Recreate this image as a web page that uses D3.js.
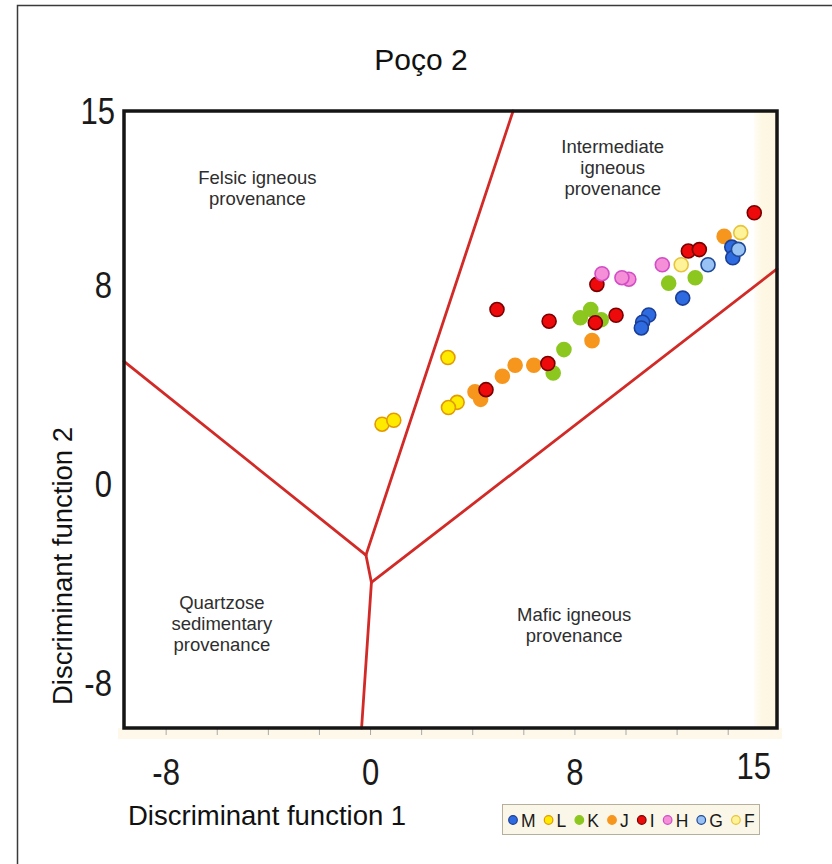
<!DOCTYPE html>
<html>
<head>
<meta charset="utf-8">
<script src="https://cdn.jsdelivr.net/npm/d3@7/dist/d3.min.js"></script>
<style>
  html, body { margin: 0; padding: 0; background: #fff; }
  svg { display: block; font-family: "Liberation Sans", Arial, sans-serif; }
</style>
</head>
<body>
<svg id="chart" width="832" height="864"></svg>
<script>
// ---- Data -------------------------------------------------------------
const title = "Poço 2";
const xTitle = "Discriminant function 1";
const yTitle = "Discriminant function 2";
const xTickLabels = [-8, 0, 8, 15];
const yTickLabels = [15, 8, 0, -8];
const xMinorTicks = [-8, -6, -4, -2, 0, 2, 4, 6, 8, 10, 12, 14];

// Sample groups (legend order)
const groups = ["M", "L", "K", "J", "I", "H", "G", "F"];
const groupFill   = ["#2f6be0", "#ffea00", "#8cc71f", "#f7961c", "#ee0a0a", "#f48fd8", "#98c2f4", "#fff39a"];
const groupStroke = ["#1b3f96", "#e29a00", "#8cc71f", "#f7961c", "#7a0000", "#d24dc6", "#1f4a98", "#e8c43a"];

// Discriminant-function scores for each group: [DF1, DF2]
const M = [[14.14, 9.53], [14.18, 9.10], [12.22, 7.48], [10.89, 6.80], [10.65, 6.51], [10.60, 6.28]];
const L = [[3.03, 5.09], [0.45, 2.41], [0.91, 2.57], [3.39, 3.29], [3.05, 3.08]];
const K = [[11.67, 8.08], [12.71, 8.30], [8.62, 7.02], [8.21, 6.69], [9.03, 6.61], [7.57, 5.41], [7.15, 4.47]];
const J = [[13.84, 9.96], [8.67, 5.77], [6.39, 4.78], [5.66, 4.78], [5.16, 4.34], [4.09, 3.71], [4.31, 3.41]];
const I = [[15.02, 10.91], [12.44, 9.37], [12.87, 9.43], [8.86, 8.03], [4.95, 7.02], [6.99, 6.55],
           [8.80, 6.49], [9.61, 6.79], [6.94, 4.85], [4.52, 3.80]];
const H = [[11.42, 8.82], [9.06, 8.46], [10.11, 8.24], [9.84, 8.30]];
const G = [[14.40, 9.44], [13.21, 8.82]];
const F = [[14.49, 10.11], [12.16, 8.82]];
const groupValues = { M, L, K, J, I, H, G, F };
const drawOrder = ["J", "K", "L", "M", "G", "F", "I", "H"];

// Provenance field boundaries (DF1, DF2)
const junctionUpper = [-0.18, -2.85];
const junctionLower = [0.035, -3.95];
const boundaries = [
  [[-9.65, 4.94], junctionUpper],          // felsic / quartzose
  [junctionUpper, [5.58, 15.0]],           // felsic / intermediate
  [junctionUpper, junctionLower],
  [junctionLower, [15.91, 8.65]],          // intermediate / mafic
  [junctionLower, [-0.35, -9.8]]           // quartzose / mafic
];

// Field names
const fieldLabels = [
  { lines: ["Felsic igneous", "provenance"], at: [-4.43, 12.05] },
  { lines: ["Intermediate", "igneous", "provenance"], at: [9.48, 13.3] },
  { lines: ["Quartzose", "sedimentary", "provenance"], at: [-5.82, -5.0] },
  { lines: ["Mafic igneous", "provenance"], at: [7.97, -5.5] }
];

// ---- Layout -------------------------------------------------------------
const plot = { left: 124, top: 111, right: 777, bottom: 728 };
const xDomain = [-9.65, 15.91];
const yDomain = [-9.8, 15];

const svg = d3.select("#chart");
const x = d3.scaleLinear().domain(xDomain).range([plot.left, plot.right]);
const y = d3.scaleLinear().domain(yDomain).range([plot.bottom, plot.top]);

// outer frame (left and top edges)
svg.append("path")
  .attr("d", "M17.5,870 L17.5,5.5 L840,5.5")
  .attr("fill", "none").attr("stroke", "#3a3a3a").attr("stroke-width", 1.5);

// cream margins around the plot
const defs = svg.append("defs");
const grad = defs.append("linearGradient").attr("id", "strip").attr("x1", 0).attr("x2", 1).attr("y1", 0).attr("y2", 0);
grad.append("stop").attr("offset", "0%").attr("stop-color", "#fffdf6");
grad.append("stop").attr("offset", "35%").attr("stop-color", "#fdf7e4");
grad.append("stop").attr("offset", "100%").attr("stop-color", "#fcf6e2");
svg.append("rect")
  .attr("x", 754).attr("y", plot.top).attr("width", plot.right - 754).attr("height", plot.bottom - plot.top)
  .attr("fill", "url(#strip)");
svg.append("rect")
  .attr("x", 118).attr("y", plot.bottom).attr("width", 664).attr("height", 11)
  .attr("fill", "#fdf8ea");

// minor ticks below the x axis
svg.append("g").selectAll("line").data(xMinorTicks).join("line")
  .attr("x1", d => x(d)).attr("x2", d => x(d))
  .attr("y1", plot.bottom).attr("y2", plot.bottom + 7)
  .attr("stroke", "#a8a8a8").attr("stroke-width", 1);

// field boundaries
const line = d3.line().x(d => x(d[0])).y(d => y(d[1]));
svg.append("g").selectAll("path").data(boundaries).join("path")
  .attr("d", line)
  .attr("fill", "none").attr("stroke", "#d22a27").attr("stroke-width", 2.8)
  .attr("stroke-linejoin", "round").attr("stroke-linecap", "round");

// field names
const fl = svg.append("g").attr("fill", "#2e2e2e").attr("font-size", 18.5).attr("text-anchor", "middle");
fieldLabels.forEach(f => {
  const t = fl.append("text").attr("x", x(f.at[0])).attr("y", y(f.at[1]));
  f.lines.forEach((ln, i) => {
    t.append("tspan").attr("x", x(f.at[0])).attr("dy", i === 0 ? 0 : 21).text(ln);
  });
});

// data points
const pts = svg.append("g");
drawOrder.forEach(g => {
  const gi = groups.indexOf(g);
  pts.append("g").selectAll("circle").data(groupValues[g]).join("circle")
    .attr("cx", d => x(d[0])).attr("cy", d => y(d[1])).attr("r", 7)
    .attr("fill", groupFill[gi]).attr("stroke", groupStroke[gi]).attr("stroke-width", 1.6);
});

// plot border
svg.append("rect")
  .attr("x", plot.left).attr("y", plot.top)
  .attr("width", plot.right - plot.left).attr("height", plot.bottom - plot.top)
  .attr("fill", "none").attr("stroke", "#151515").attr("stroke-width", 3.5);

// tick labels (narrow digits)
const squeeze = 0.84;
svg.append("g").attr("font-size", 37).attr("fill", "#1a1a1a").attr("text-anchor", "middle")
  .selectAll("text").data(xTickLabels).join("text")
  .attr("transform", d => `translate(${x(d)},${d === 15 ? 779 : 785}) scale(${squeeze},1)`)
  .text(d => d);
svg.append("g").attr("font-size", 37).attr("fill", "#1a1a1a").attr("text-anchor", "end")
  .selectAll("text").data(yTickLabels).join("text")
  .attr("transform", d => `translate(${d === 15 ? 115 : 112},${Math.max(y(d), 109) + 13}) scale(${squeeze},1)`)
  .text(d => d);

// titles
svg.append("text").attr("x", 421).attr("y", 70).attr("text-anchor", "middle")
  .attr("font-size", 30).attr("fill", "#111").text(title);
svg.append("text").attr("x", 128).attr("y", 825)
  .attr("font-size", 27.5).attr("fill", "#111").text(xTitle);
svg.append("text").attr("transform", "translate(72,566) rotate(-90)").attr("text-anchor", "middle")
  .attr("font-size", 27.5).attr("fill", "#111").text(yTitle);

// legend
const legend = svg.append("g");
legend.append("rect").attr("x", 502.5).attr("y", 804.5).attr("width", 257).attr("height", 30)
  .attr("fill", "#fbf7e8").attr("stroke", "#b5af9c").attr("stroke-width", 1);
let lx = 513;
groups.forEach((g, i) => {
  legend.append("circle").attr("cx", lx).attr("cy", 820).attr("r", 4.3)
    .attr("fill", groupFill[i]).attr("stroke", groupStroke[i]).attr("stroke-width", 1.2);
  const t = legend.append("text").attr("x", lx + 8).attr("y", 826.5)
    .attr("font-size", 17.5).attr("fill", "#1a1a1a").text(g);
  lx += 8 + t.node().getComputedTextLength() + 13;
});
</script>
</body>
</html>
